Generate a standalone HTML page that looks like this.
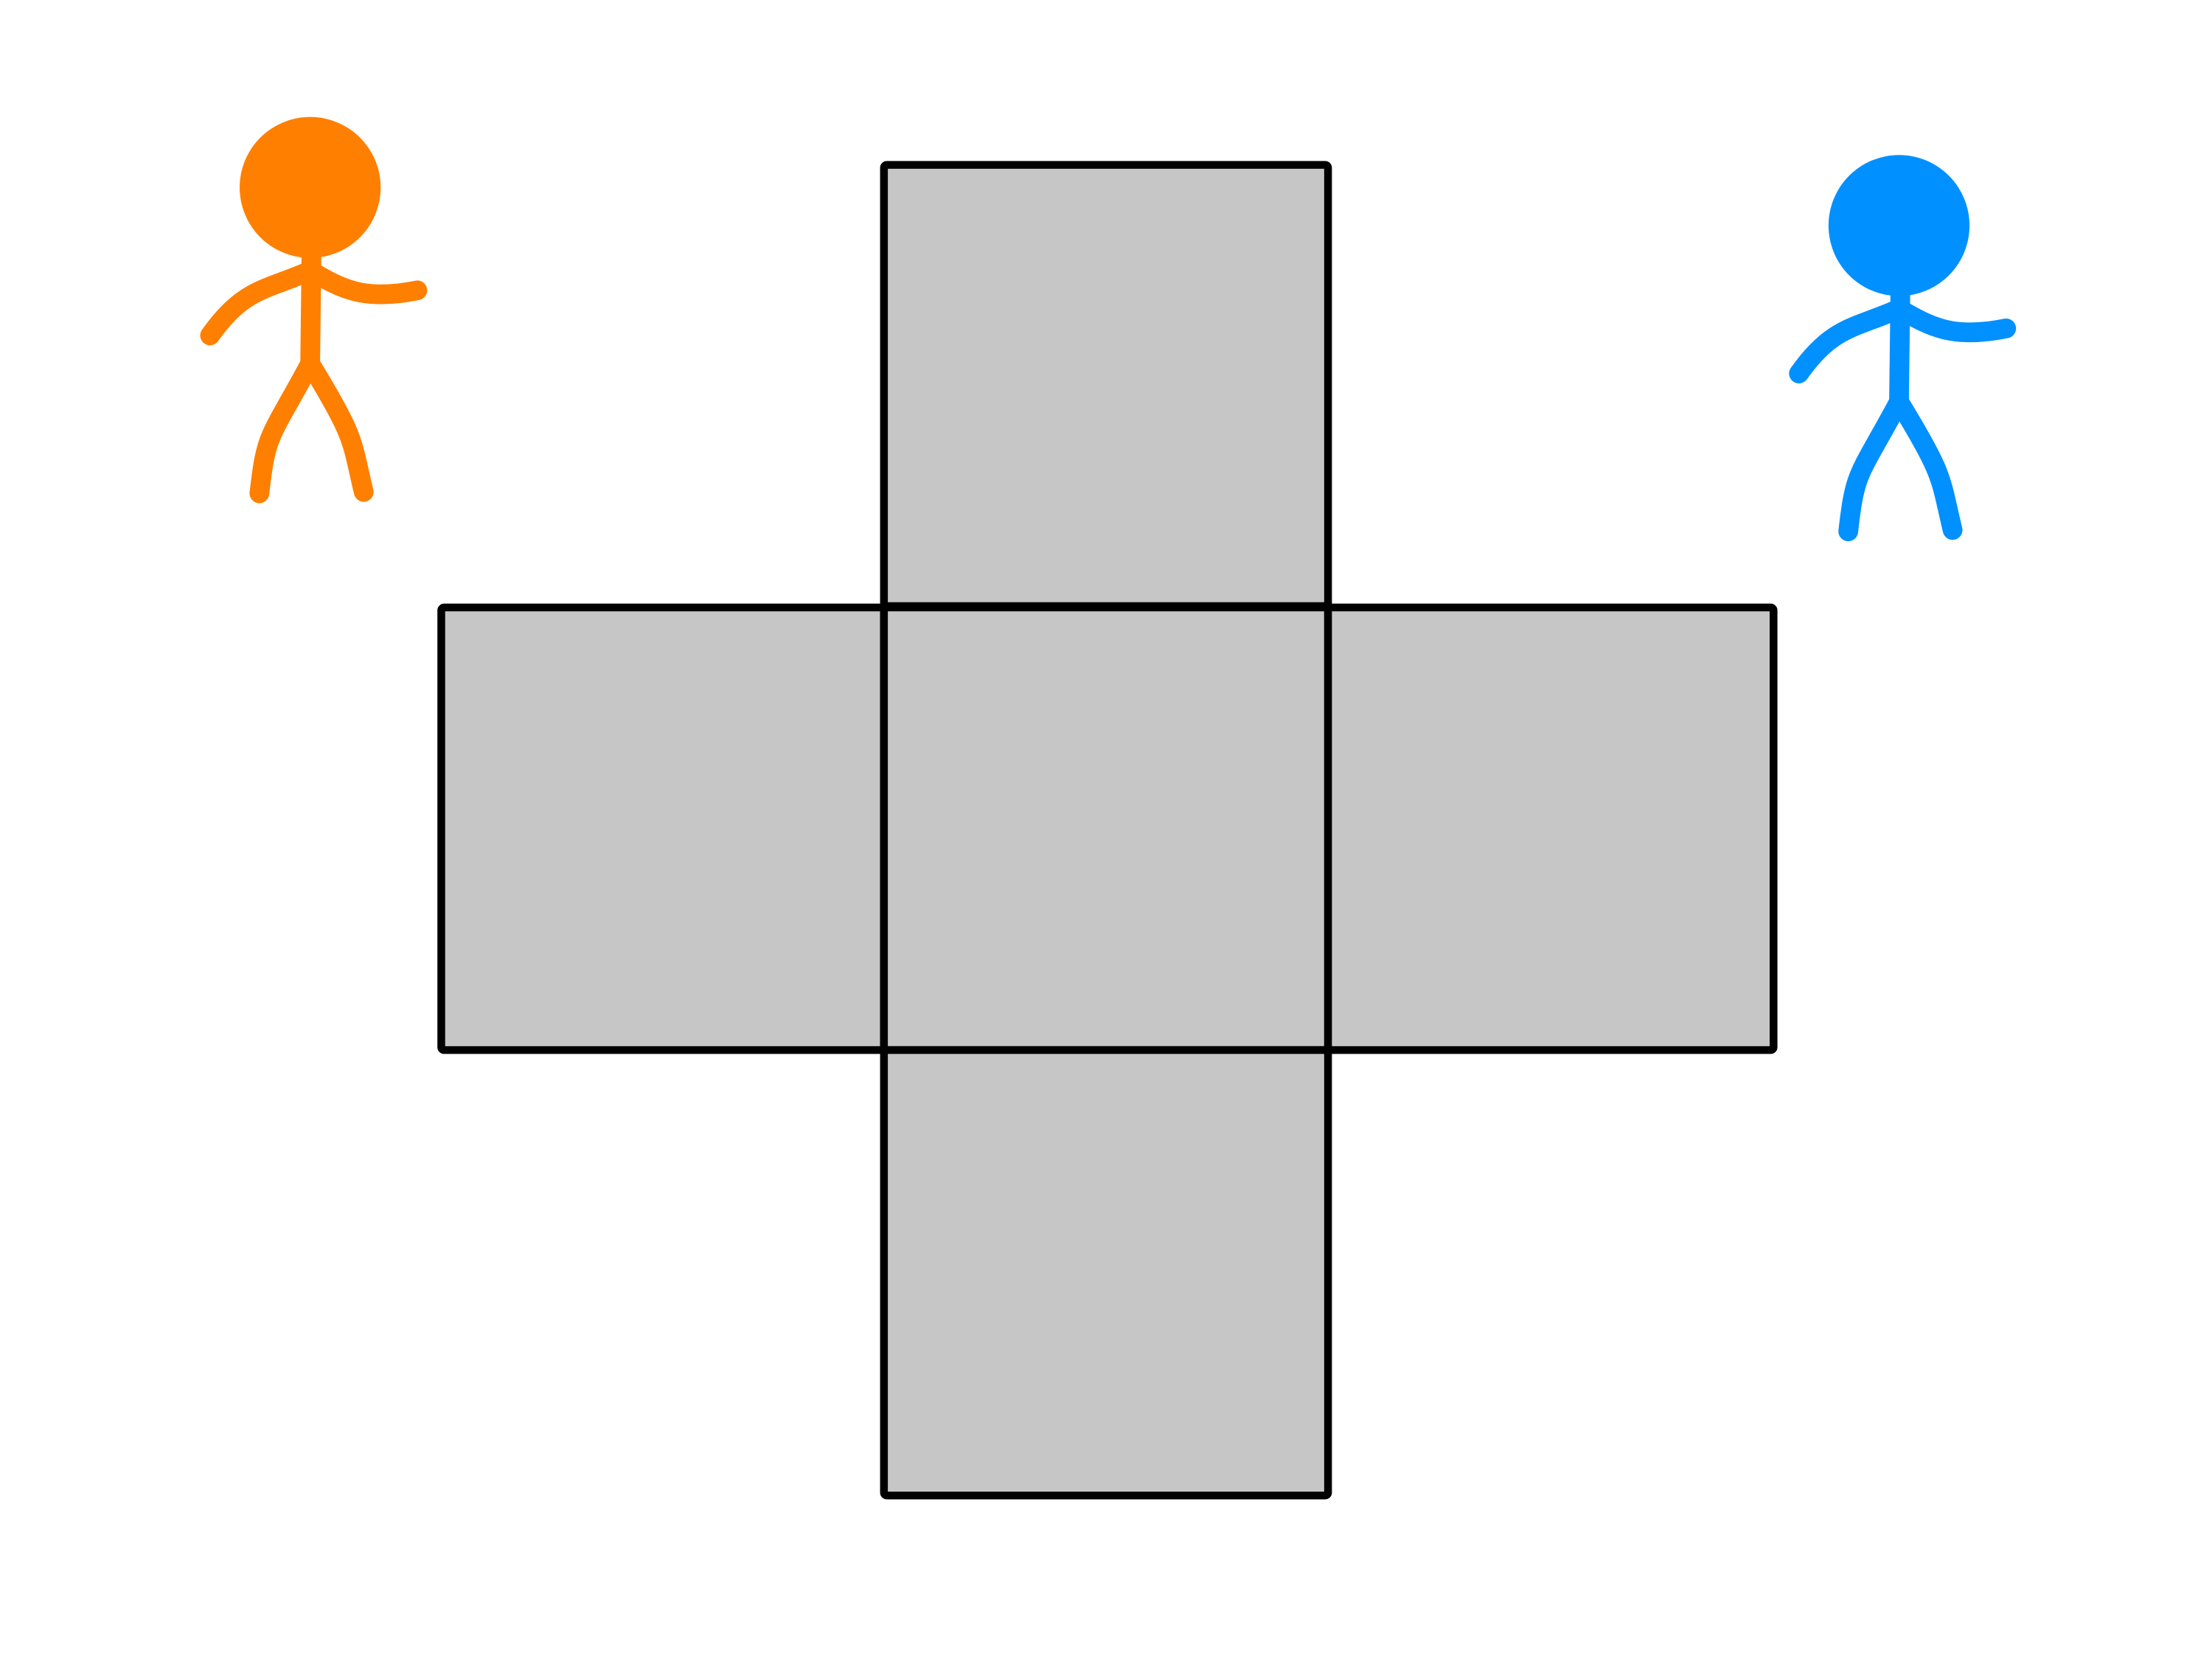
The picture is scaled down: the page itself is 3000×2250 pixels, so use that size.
<!DOCTYPE html>
<html>
<head>
<meta charset="utf-8">
<style>
html,body{margin:0;padding:0;background:#fff;}
svg{display:block;}
</style>
</head>
<body>
<svg width="3000" height="2250" viewBox="0 0 1569 1177" preserveAspectRatio="none" xmlns="http://www.w3.org/2000/svg">
  <rect width="1569" height="1177" fill="#fff"/>
  <g fill="#c6c6c6" stroke="#000" stroke-width="5.5" stroke-linejoin="round">
    <rect x="627" y="117" width="315" height="313" rx="2"/>
    <rect x="313" y="431" width="314" height="314" rx="2"/>
    <rect x="627" y="431" width="315" height="314" rx="2"/>
    <rect x="942" y="431" width="316" height="314" rx="2"/>
    <rect x="627" y="745" width="315" height="316" rx="2"/>
  </g>
  <g transform="translate(1,0)" stroke="#ff7f00" fill="none" stroke-width="14" stroke-linecap="round" stroke-linejoin="round">
    <circle cx="219" cy="133" r="50" fill="#ff7f00" stroke="none"/>
    <path d="M220,175 L219,258"/>
    <path d="M219,192 C188,206 172,204 148,238"/>
    <path d="M219,192 C240,204 256,214 295,206"/>
    <path d="M219,258 C190,312 188,306 183,350"/>
    <path d="M219,258 C252,312 248,312 257,349"/>
  </g>
  <g transform="translate(1128,27)" stroke="#0090ff" fill="none" stroke-width="14" stroke-linecap="round" stroke-linejoin="round">
    <circle cx="219" cy="133" r="50" fill="#0090ff" stroke="none"/>
    <path d="M220,175 L219,258"/>
    <path d="M219,192 C188,206 172,204 148,238"/>
    <path d="M219,192 C240,204 256,214 295,206"/>
    <path d="M219,258 C190,312 188,306 183,350"/>
    <path d="M219,258 C252,312 248,312 257,349"/>
  </g>
</svg>
</body>
</html>
